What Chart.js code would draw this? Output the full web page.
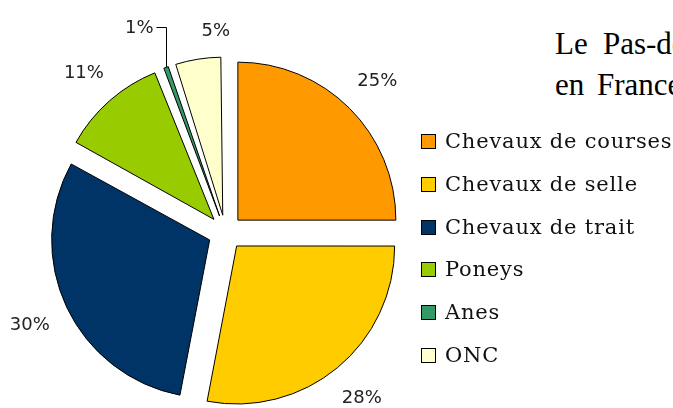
<!DOCTYPE html>
<html>
<head>
<meta charset="utf-8">
<script src="https://cdn.jsdelivr.net/npm/chart.js@4.4.0/dist/chart.umd.min.js"></script>
<style>
  html, body { margin: 0; padding: 0; background: #fff; }
  body { width: 673px; height: 408px; overflow: hidden; position: relative; }
  #wrap { position: absolute; left: 0; top: 0; width: 673px; height: 408px; }
  .doc { position: absolute; left: 555px; font-family: "Liberation Serif", serif; font-size: 31px; color: #000; white-space: nowrap; }
  #legend { position: absolute; left: 421px; top: 134px; margin: 0; padding: 0; list-style: none; }
  #legend li { height: 42.8px; display: flex; align-items: flex-start; font-family: "DejaVu Serif", serif; font-size: 21px; letter-spacing: 0.8px; color: #111; white-space: nowrap; }
  #legend .box { width: 13px; height: 13px; border: 1px solid #000; margin-right: 9px; flex: none; }
  #legend .txt { line-height: 15px; }
</style>
</head>
<body>
<div class="doc" style="top: 26px; word-spacing: 7.5px;">Le Pas-de-Calais</div>
<div class="doc" style="top: 67px; word-spacing: 5px;">en France</div>
<div id="wrap"><canvas id="pie"></canvas></div>
<ul id="legend"></ul>
<script>
var categories = ['Chevaux de courses', 'Chevaux de selle', 'Chevaux de trait', 'Poneys', 'Anes', 'ONC'];
var shares = [25, 28, 30, 11, 1, 5];
var sliceColors = ['#FF9900', '#FFCC00', '#003366', '#99CC00', '#339966', '#FFFFCC'];

// html legend, same order as the slices
var legend = document.getElementById('legend');
categories.forEach(function (name, i) {
    var li = document.createElement('li');
    li.innerHTML = '<span class="box" style="background:' + sliceColors[i] + '"></span><span class="txt">' + name + '</span>';
    legend.appendChild(li);
});

var explode = 70; // chart.js moves each arc by offset / 4

function radiusFix(arc) {
    var circ = arc.endAngle - arc.startAngle;
    return (explode / 4) * (1 - Math.sin(Math.min(Math.PI, circ)));
}

var percentLabels = {
    id: 'percentLabels',
    afterDatasetUpdate: function (chart) {
        // offset also grows the radius of narrow arcs, undo that
        chart.getDatasetMeta(0).data.forEach(function (arc) {
            arc.outerRadius = arc.outerRadius - radiusFix(arc);
        });
    },
    afterDatasetsDraw: function (chart) {
        var ctx = chart.ctx;
        ctx.save();
        ctx.font = '18px "DejaVu Sans"';
        ctx.fillStyle = '#222';
        ctx.strokeStyle = '#000';
        ctx.lineWidth = 1;
        ctx.textBaseline = 'middle';
        var leaderX = null;
        chart.getDatasetMeta(0).data.forEach(function (arc, i) {
            var mid = (arc.startAngle + arc.endAngle) / 2;
            var r = arc.outerRadius + radiusFix(arc);
            var cx = arc.x + Math.cos(mid) * explode / 4;
            var cy = arc.y + Math.sin(mid) * explode / 4;
            var ox = cx + Math.cos(mid) * r;
            var oy = cy + Math.sin(mid) * r;
            var text = shares[i] + '%';
            var w = ctx.measureText(text).width;
            if (shares[i] < 2) {
                // leader line going up then left
                var lx = Math.round(ox) + 0.5;
                var ly = Math.round(oy - 40) + 0.5;
                ctx.beginPath();
                ctx.moveTo(lx, oy);
                ctx.lineTo(lx, ly);
                ctx.lineTo(lx - 10, ly);
                ctx.stroke();
                ctx.textAlign = 'right';
                ctx.fillText(text, lx - 13, ly + 1);
                leaderX = lx;
                return;
            }
            var ext = Math.abs(Math.cos(mid)) * w / 2 + Math.abs(Math.sin(mid)) * 8.5 + 19;
            var tx = ox + Math.cos(mid) * ext;
            var ty = oy + Math.sin(mid) * ext + 1;
            // keep clear of the leader line
            if (leaderX !== null && tx > leaderX && tx - w / 2 < leaderX + 35) {
                tx = leaderX + 35 + w / 2;
            }
            ctx.textAlign = 'center';
            ctx.fillText(text, tx, ty);
        });
        ctx.restore();
    }
};

new Chart(document.getElementById('pie'), {
    type: 'pie',
    data: {
        labels: categories,
        datasets: [{
            data: shares,
            backgroundColor: sliceColors,
            borderColor: '#000',
            borderWidth: 1,
            offset: explode,
            clip: false
        }]
    },
    options: {
        responsive: true,
        maintainAspectRatio: false,
        animation: false,
        radius: 158,
        layout: {
            padding: { left: 0, right: 222, top: 57, bottom: 0 }
        },
        plugins: {
            legend: { display: false },
            tooltip: { enabled: false }
        }
    },
    plugins: [percentLabels]
});
</script>
</body>
</html>
